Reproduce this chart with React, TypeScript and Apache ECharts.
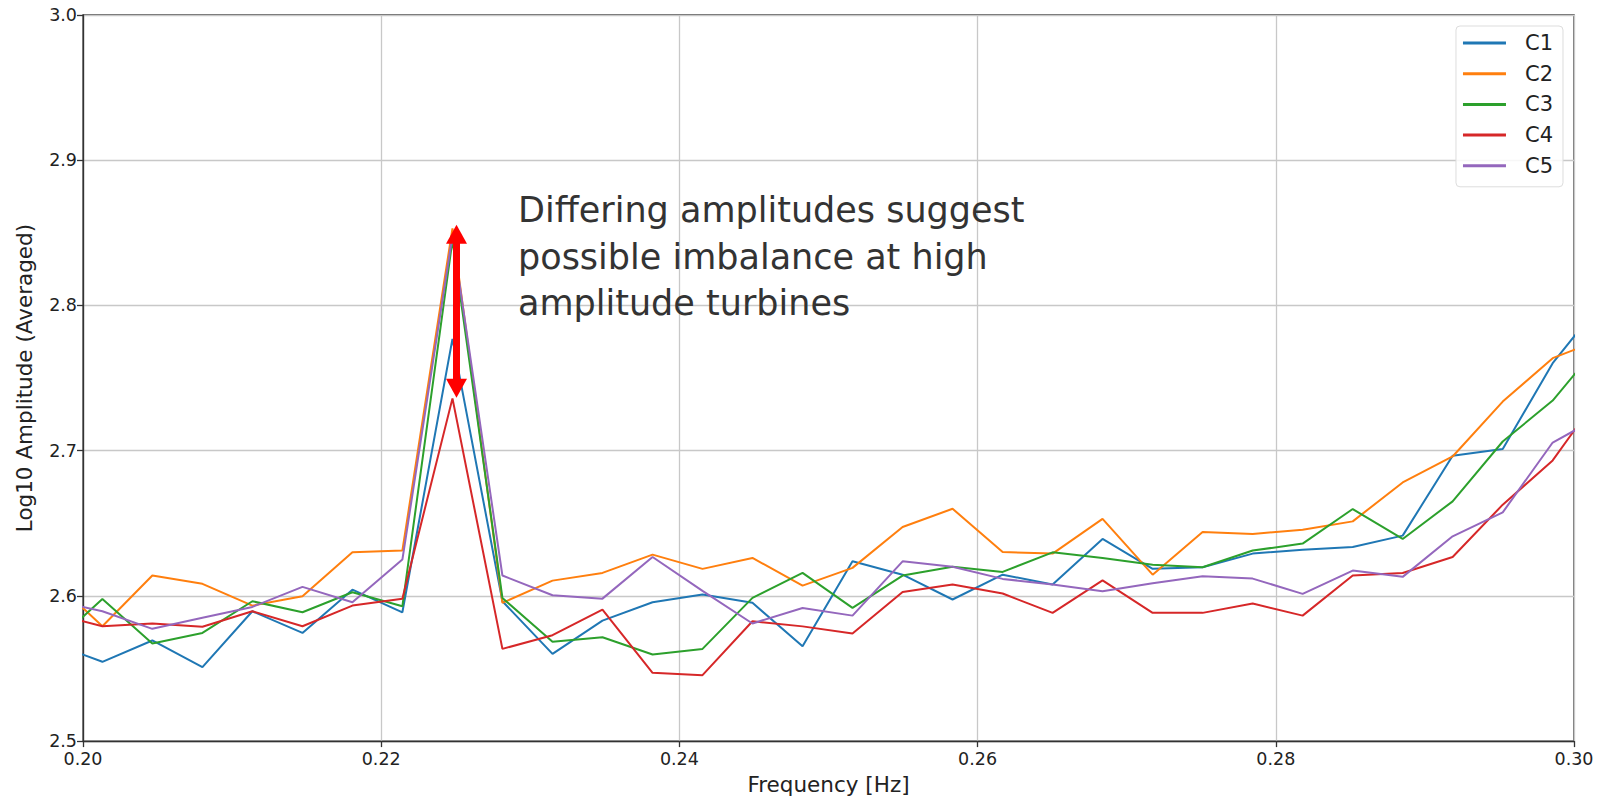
import React, { useEffect, useRef } from 'react';
import * as echarts from 'echarts';

// Frequency bins (Hz) of the averaged spectra
const FREQ_HZ = [
  0.19794, 0.2013, 0.20465, 0.20801, 0.21136, 0.21472, 0.21807, 0.22142,
  0.22478, 0.22813, 0.23149, 0.23484, 0.2382, 0.24155, 0.2449, 0.24826,
  0.25161, 0.25497, 0.25832, 0.26168, 0.26503, 0.26838, 0.27174, 0.27509,
  0.27845, 0.2818, 0.28516, 0.28851, 0.29186, 0.29522, 0.29857, 0.30193,
];

// Log10 amplitude per turbine
const C1 = [
  2.5674, 2.5546, 2.5693, 2.5509, 2.5894, 2.5745, 2.6043, 2.5887,
  2.777, 2.5963, 2.5601, 2.583, 2.5956, 2.6009, 2.5952, 2.5653,
  2.6238, 2.6146, 2.5975, 2.6146, 2.6078, 2.6392, 2.6186, 2.6197,
  2.6291, 2.6318, 2.6337, 2.6415, 2.6965, 2.7011, 2.7602, 2.8032,
];
const C2 = [
  2.6114, 2.5791, 2.614, 2.6083, 2.5933, 2.5997, 2.63, 2.6312,
  2.853, 2.5952, 2.6105, 2.6158, 2.6284, 2.6186, 2.6261, 2.6071,
  2.6193, 2.6474, 2.66, 2.6302, 2.6291, 2.653, 2.6146, 2.644,
  2.6426, 2.6456, 2.6513, 2.6781, 2.696, 2.7338, 2.7637, 2.7771,
];
const C3 = [
  2.5661, 2.5979, 2.5672, 2.5745, 2.5963, 2.5887, 2.6025, 2.5928,
  2.845, 2.5986, 2.5684, 2.5715, 2.5596, 2.5635, 2.5986, 2.6158,
  2.5917, 2.614, 2.62, 2.6165, 2.63, 2.6261, 2.6215, 2.6197,
  2.6312, 2.636, 2.6598, 2.6392, 2.6651, 2.7063, 2.7345, 2.776,
];
const C4 = [
  2.5878, 2.5791, 2.581, 2.5787, 2.5894, 2.5791, 2.5933, 2.5981,
  2.736, 2.5635, 2.5729, 2.5906, 2.547, 2.5454, 2.5825, 2.579,
  2.5741, 2.6027, 2.6078, 2.6016, 2.5883, 2.6107, 2.5883, 2.5883,
  2.5947, 2.5864, 2.614, 2.6158, 2.6268, 2.6628, 2.6933, 2.7412,
];
const C5 = [
  2.5971, 2.5894, 2.5773, 2.5849, 2.5924, 2.6062, 2.5956, 2.625,
  2.848, 2.614, 2.6004, 2.5981, 2.6268, 2.6035, 2.581, 2.5917,
  2.5864, 2.6238, 2.62, 2.6117, 2.6078, 2.6032, 2.6087, 2.6135,
  2.6119, 2.6014, 2.6174, 2.6131, 2.641, 2.6575, 2.7056, 2.7246,
];

const SERIES_NAMES = ['C1', 'C2', 'C3', 'C4', 'C5'];
const SERIES_VALUES = [C1, C2, C3, C4, C5];
const COLORS = ['#1f77b4', '#ff7f0e', '#2ca02c', '#d62728', '#9467bd'];

// Double-headed arrow across the peak spread (head centres; heads reach a bit beyond)
const ARROW_FREQ = 0.22505;
const ARROW_TOP = 2.849;
const ARROW_BOTTOM = 2.743;

const NOTE_LINES = [
  'Differing amplitudes suggest',
  'possible imbalance at high',
  'amplitude turbines',
];

const AXIS_FONT = '"DejaVu Sans", sans-serif';

export default function App() {
  const ref = useRef<HTMLDivElement>(null);

  useEffect(() => {
    const chart = echarts.init(ref.current!, null, { renderer: 'svg' });

    const series: any[] = SERIES_NAMES.map((name, i) => ({
      name,
      type: 'line',
      data: FREQ_HZ.map((f, j) => [f, SERIES_VALUES[i][j]]),
      showSymbol: false,
      symbol: 'none',
      clip: true,
      lineStyle: { color: COLORS[i], width: 2 },
      itemStyle: { color: COLORS[i] },
      z: 2,
    }));

    series[series.length - 1].markLine = {
      silent: true,
      symbol: ['triangle', 'triangle'],
      symbolSize: [21, 19],
      label: { show: false },
      lineStyle: { color: '#ff0000', width: 7, type: 'solid' },
      emphasis: { disabled: true },
      data: [[{ coord: [ARROW_FREQ, ARROW_TOP] }, { coord: [ARROW_FREQ, ARROW_BOTTOM] }]],
      z: 10,
    };

    chart.setOption({
      animation: false,
      backgroundColor: '#ffffff',
      grid: {
        left: 83,
        top: 15,
        right: 30,
        bottom: 58,
        show: true,
        borderColor: '#333333',
        borderWidth: 1.3,
      },
      legend: {
        data: SERIES_NAMES,
        orient: 'vertical',
        right: 41,
        top: 26,
        icon: 'rect',
        itemWidth: 43,
        itemHeight: 3,
        itemGap: 8.7,
        padding: [6, 10, 10, 7],
        backgroundColor: 'rgba(255,255,255,0.85)',
        borderColor: '#dddddd',
        borderWidth: 1,
        borderRadius: 4,
        textStyle: {
          fontFamily: AXIS_FONT,
          fontSize: 21,
          lineHeight: 22,
          color: '#222222',
          padding: [0, 0, 0, 14],
        },
      },
      xAxis: {
        type: 'value',
        min: 0.2,
        max: 0.3,
        interval: 0.02,
        name: 'Frequency [Hz]',
        nameLocation: 'middle',
        nameGap: 30.5,
        nameTextStyle: { fontFamily: AXIS_FONT, fontSize: 21.5, color: '#222222' },
        axisLine: { show: true, lineStyle: { color: '#333333', width: 1.3 } },
        axisTick: { show: true, inside: false, length: 6, lineStyle: { color: '#333333', width: 1.3 } },
        axisLabel: {
          fontFamily: AXIS_FONT,
          fontSize: 17.5,
          lineHeight: 18,
          color: '#222222',
          margin: 9,
          formatter: (v: number) => v.toFixed(2),
        },
        splitLine: { show: true, lineStyle: { color: '#c8c8c8', width: 1.3 } },
      },
      yAxis: {
        type: 'value',
        min: 2.5,
        max: 3.0,
        interval: 0.1,
        name: 'Log10 Amplitude (Averaged)',
        nameLocation: 'middle',
        nameGap: 48,
        nameTextStyle: { fontFamily: AXIS_FONT, fontSize: 21.5, color: '#222222' },
        axisLine: { show: true, lineStyle: { color: '#333333', width: 1.3 } },
        axisTick: { show: true, inside: false, length: 6, lineStyle: { color: '#333333', width: 1.3 } },
        axisLabel: {
          fontFamily: AXIS_FONT,
          fontSize: 17.5,
          lineHeight: 14,
          color: '#222222',
          margin: 6,
          formatter: (v: number) => v.toFixed(1),
        },
        splitLine: { show: true, lineStyle: { color: '#c8c8c8', width: 1.3 } },
      },
      graphic: [
        {
          type: 'text',
          left: 518,
          top: 187,
          z: 20,
          style: {
            text: NOTE_LINES.join('\n'),
            font: '35px "DejaVu Sans", sans-serif',
            fill: '#333333',
            lineHeight: 46.5,
          },
        },
      ],
      series,
    });

    return () => chart.dispose();
  }, []);

  return (
    <div
      ref={ref}
      style={{ position: 'fixed', left: 0, top: 0, width: 1604, height: 800, background: '#ffffff' }}
    />
  );
}
